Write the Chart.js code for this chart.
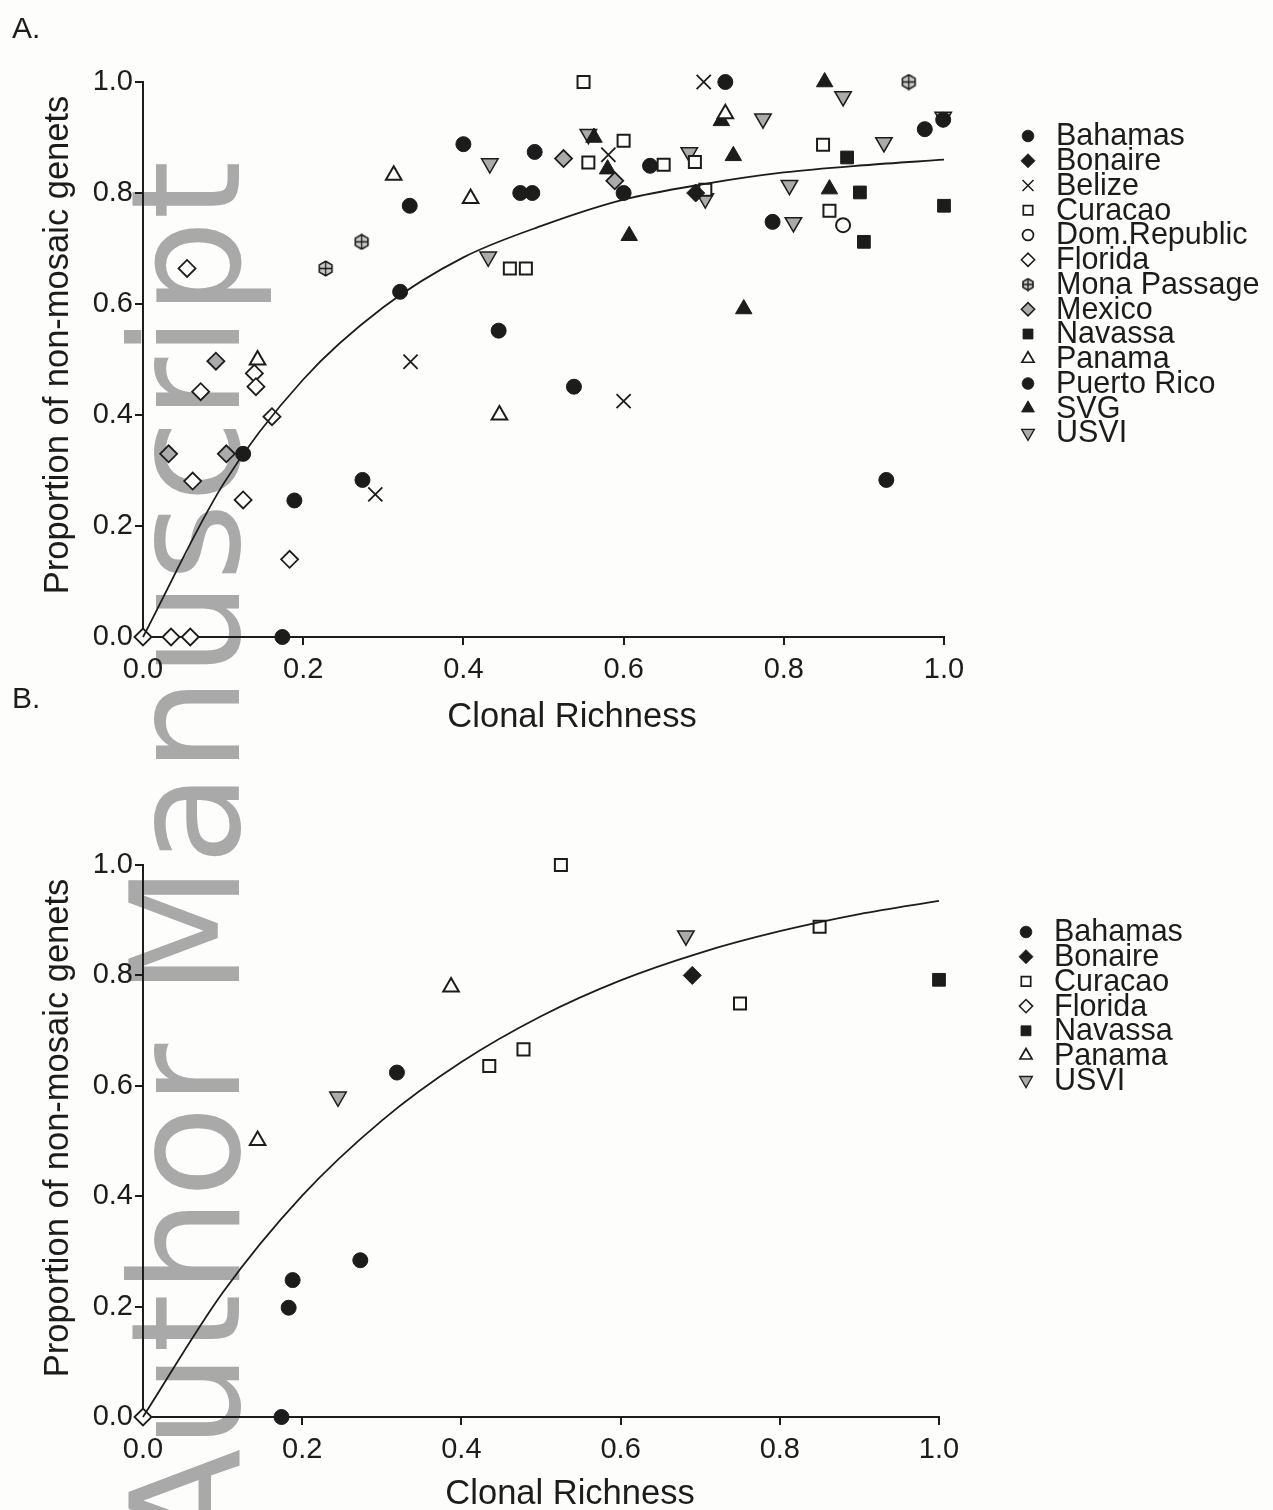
<!DOCTYPE html>
<html>
<head>
<meta charset="utf-8">
<title>Clonal richness vs non-mosaic genets</title>
<script src="https://cdn.jsdelivr.net/npm/chart.js@4.4.1/dist/chart.umd.min.js"></script>
<style>
  body { margin: 0; background: #fdfdfb; }
  #page { position: relative; width: 1273px; height: 1510px; overflow: hidden; }
  .wrap { position: absolute; left: 0; width: 1273px; z-index: 1; }
  .panel-label { position: absolute; left: 12px; font: 30px "Liberation Sans", Arial, sans-serif; line-height: 30px; color: #1c1c1c; z-index: 2; }
  #watermark {
    position: absolute; left: 112px; top: 1552px; z-index: 0;
    transform: rotate(-90deg); transform-origin: 0 0;
    font: 151px "DejaVu Sans", sans-serif; line-height: 1; color: #a9a9a9; white-space: nowrap;
  }
</style>
</head>
<body>
<div id="page">
  <div id="watermark">Author Manuscript</div>
  <div class="panel-label" style="top:13px">A.</div>
  <div class="panel-label" style="top:683px">B.</div>
  <div class="wrap" style="top:0"><canvas id="chartA" width="1273" height="750"></canvas></div>
  <div class="wrap" style="top:750px"><canvas id="chartB" width="1273" height="760"></canvas></div>
</div>
<script>
// clonal richness (x) vs proportion of non-mosaic genets (y), one array per location

// Panel A - all sites
const bahamasA = [[0.174, 0], [0.189, 0.246], [0.274, 0.283], [0.321, 0.622]];
const bonaireA = [[0.69, 0.8]];
const belizeA = [[0.7, 1.0], [0.581, 0.869], [0.334, 0.496], [0.6, 0.425], [0.29, 0.257]];
const curacaoA = [[0.55, 1.0], [0.6, 0.894], [0.556, 0.855], [0.65, 0.851], [0.689, 0.856],
                  [0.458, 0.664], [0.478, 0.664], [0.849, 0.887], [0.857, 0.768], [0.702, 0.806]];
const domRepublicA = [[0.874, 0.742]];
const floridaA = [[0.055, 0.664], [0.072, 0.442], [0.139, 0.475], [0.141, 0.451], [0.161, 0.397],
                  [0.062, 0.281], [0.125, 0.247], [0.183, 0.14], [0, 0], [0.035, 0], [0.059, 0]];
const monaPassageA = [[0.228, 0.664], [0.273, 0.712], [0.956, 1.0]];
const mexicoA = [[0.525, 0.862], [0.589, 0.822], [0.091, 0.497], [0.032, 0.33], [0.104, 0.33]];
const navassaA = [[0.879, 0.864], [0.895, 0.801], [1.0, 0.777], [0.9, 0.712]];
const panamaA = [[0.313, 0.832], [0.409, 0.79], [0.727, 0.943], [0.143, 0.499], [0.445, 0.4]];
const puertoRicoA = [[0.125, 0.33], [0.333, 0.777], [0.4, 0.888], [0.444, 0.552], [0.471, 0.8],
                     [0.486, 0.8], [0.489, 0.874], [0.538, 0.451], [0.6, 0.8], [0.633, 0.849],
                     [0.727, 1.0], [0.786, 0.748], [0.928, 0.283], [0.976, 0.915], [0.999, 0.932]];
const svgA = [[0.563, 0.9], [0.58, 0.843], [0.607, 0.723], [0.851, 1.0], [0.722, 0.93],
              [0.737, 0.867], [0.857, 0.807], [0.75, 0.591]];
const usviA = [[0.556, 0.906], [0.433, 0.853], [0.431, 0.685], [0.682, 0.873], [0.874, 0.974],
               [0.774, 0.934], [0.999, 0.937], [0.925, 0.891], [0.807, 0.814], [0.702, 0.79], [0.812, 0.747]];

// Panel B - subset of sites
const bahamasB = [[0.174, 0], [0.183, 0.198], [0.188, 0.248], [0.273, 0.284], [0.319, 0.624]];
const bonaireB = [[0.69, 0.8]];
const curacaoB = [[0.525, 1.0], [0.478, 0.666], [0.435, 0.636], [0.75, 0.749], [0.85, 0.888]];
const floridaB = [[0, 0]];
const navassaB = [[1.0, 0.792]];
const panamaB = [[0.387, 0.779], [0.144, 0.501]];
const usviB = [[0.245, 0.58], [0.682, 0.872]];

// fitted saturation curves, read at 0.1 steps
const fitX = [0, 0.1, 0.2, 0.3, 0.4, 0.5, 0.6, 0.7, 0.8, 0.9, 1.0];
const fitA = [0, 0.275, 0.464, 0.594, 0.684, 0.742, 0.788, 0.816, 0.837, 0.85, 0.86];
const fitB = [0, 0.225, 0.401, 0.537, 0.643, 0.726, 0.791, 0.841, 0.88, 0.911, 0.935];

const xTicks = [0, 0.2, 0.4, 0.6, 0.8, 1.0];

const FONT = '"Liberation Sans", Arial, Helvetica, sans-serif';
const INK = '#1c1c1c';
const PAPER = '#fdfdfb';
const SHADE = '#ababab';

// hexagon with a cross, used for Mona Passage
function hexCross(size) {
  const c = document.createElement('canvas');
  c.width = c.height = size;
  const g = c.getContext('2d');
  const m = size / 2, r = size / 2 - 1.2;
  g.beginPath();
  for (let i = 0; i < 6; i++) {
    const a = i * Math.PI / 3;
    g.lineTo(m + r * Math.sin(a), m - r * Math.cos(a));
  }
  g.closePath();
  g.fillStyle = '#c9c9c9';
  g.fill();
  g.lineWidth = 1.6;
  g.strokeStyle = INK;
  g.stroke();
  g.beginPath();
  g.moveTo(m, m - r); g.lineTo(m, m + r);
  g.moveTo(m - r * 0.87, m); g.lineTo(m + r * 0.87, m);
  g.lineWidth = 1.3;
  g.stroke();
  return c;
}
const hexIcon = hexCross(17);
const hexIconSmall = hexCross(14);

const markers = {
  'Bahamas':      { style: 'circle',   r: 7.5, fill: INK,   line: INK, w: 1 },
  'Bonaire':      { style: 'rectRot',  r: 9,   fill: INK,   line: INK, w: 1 },
  'Belize':       { style: 'crossRot', r: 10,  fill: INK,   line: INK, w: 1.8 },
  'Curacao':      { style: 'rect',     r: 8.5, fill: PAPER, line: INK, w: 2 },
  'Dom.Republic': { style: 'circle',   r: 7,   fill: PAPER, line: INK, w: 2 },
  'Florida':      { style: 'rectRot',  r: 8.5, fill: PAPER, line: INK, w: 1.8 },
  'Mona Passage': { style: hexIcon,    r: 8,   fill: SHADE, line: INK, w: 1, small: hexIconSmall },
  'Mexico':       { style: 'rectRot',  r: 8.5, fill: SHADE, line: INK, w: 1.8 },
  'Navassa':      { style: 'rect',     r: 9,   fill: INK,   line: INK, w: 1 },
  'Panama':       { style: 'triangle', r: 9,   fill: PAPER, line: INK, w: 2 },
  'Puerto Rico':  { style: 'circle',   r: 7.5, fill: INK,   line: INK, w: 1 },
  'SVG':          { style: 'triangle', r: 9.5, fill: INK,   line: INK, w: 1 },
  'USVI':         { style: 'triangle', r: 9.5, fill: SHADE, line: INK, w: 1.5, rot: 180 }
};

function pointSet(name, pairs) {
  const m = markers[name];
  return {
    label: name,
    data: pairs.map(p => ({ x: p[0], y: p[1] })),
    pointStyle: m.style,
    pointRotation: m.rot || 0,
    pointRadius: m.r,
    pointHoverRadius: m.r,
    backgroundColor: m.fill,
    borderColor: m.line,
    borderWidth: m.w,
    showLine: false,
    clip: false
  };
}

function fitSet(ys) {
  return {
    label: 'fit',
    data: fitX.map((x, i) => ({ x: x, y: ys[i] })),
    showLine: true,
    pointRadius: 0,
    borderColor: INK,
    borderWidth: 1.8,
    cubicInterpolationMode: 'monotone',
    fill: false,
    clip: false
  };
}

// axis titles and the side legend
const annotate = {
  id: 'annotate',
  afterDraw(chart, args, o) {
    const ctx = chart.ctx;
    ctx.save();
    ctx.fillStyle = INK;
    ctx.font = o.titleSize + 'px ' + FONT;
    ctx.textAlign = 'center';
    ctx.textBaseline = 'middle';
    ctx.fillText(o.xTitle, o.xTitleAt[0], o.xTitleAt[1]);
    ctx.save();
    ctx.translate(o.yTitleAt[0], o.yTitleAt[1]);
    ctx.rotate(-Math.PI / 2);
    ctx.fillText(o.yTitle, 0, 0);
    ctx.restore();

    ctx.font = o.legendSize + 'px ' + FONT;
    ctx.textAlign = 'left';
    o.entries.forEach((name, i) => {
      const m = markers[name];
      const x = o.legendAt[0], y = o.legendAt[1] + i * o.rowGap;
      ctx.fillStyle = m.fill;
      ctx.strokeStyle = m.line;
      ctx.lineWidth = m.w * 0.85;
      Chart.helpers.drawPoint(ctx, {
        pointStyle: m.small || m.style,
        rotation: m.rot || 0,
        radius: m.r * 0.78,
        borderWidth: m.w * 0.85
      }, x, y);
      ctx.fillStyle = INK;
      ctx.fillText(name, x + 28, y + 1);
    });
    ctx.restore();
  }
};

function scales(xh, yw) {
  const tickFont = { size: 29, family: FONT };
  return {
    x: {
      type: 'linear', min: 0, max: 1,
      afterFit: s => { s.height = xh; },
      afterBuildTicks: s => { s.ticks = xTicks.map(v => ({ value: v })); },
      ticks: { color: INK, font: tickFont, padding: 8, maxRotation: 0, callback: v => v.toFixed(1) },
      grid: { display: true, drawOnChartArea: false, drawTicks: true, tickLength: 8, color: INK, lineWidth: 2 },
      border: { display: true, color: INK, width: 2 }
    },
    y: {
      type: 'linear', min: 0, max: 1,
      afterFit: s => { s.width = yw; },
      afterBuildTicks: s => { s.ticks = xTicks.map(v => ({ value: v })); },
      ticks: { color: INK, font: tickFont, padding: 2, callback: v => v.toFixed(1) },
      grid: { display: true, drawOnChartArea: false, drawTicks: true, tickLength: 8, color: INK, lineWidth: 2 },
      border: { display: true, color: INK, width: 2 }
    }
  };
}

function makeChart(id, datasets, padding, notes) {
  return new Chart(document.getElementById(id), {
    type: 'scatter',
    data: { datasets: datasets },
    options: {
      responsive: false,
      animation: false,
      layout: { padding: padding },
      scales: scales(60, 143),
      plugins: {
        legend: { display: false },
        tooltip: { enabled: false },
        annotate: notes
      }
    },
    plugins: [annotate]
  });
}

makeChart('chartA', [
  fitSet(fitA),
  pointSet('Bahamas', bahamasA),
  pointSet('Bonaire', bonaireA),
  pointSet('Belize', belizeA),
  pointSet('Curacao', curacaoA),
  pointSet('Dom.Republic', domRepublicA),
  pointSet('Florida', floridaA),
  pointSet('Mona Passage', monaPassageA),
  pointSet('Mexico', mexicoA),
  pointSet('Navassa', navassaA),
  pointSet('Panama', panamaA),
  pointSet('Puerto Rico', puertoRicoA),
  pointSet('SVG', svgA),
  pointSet('USVI', usviA)
], { left: 0, top: 82, right: 329, bottom: 53 }, {
  xTitle: 'Clonal Richness', xTitleAt: [572, 717],
  yTitle: 'Proportion of non-mosaic genets', yTitleAt: [58, 345],
  titleSize: 34.5, legendSize: 30.5,
  legendAt: [1028, 136], rowGap: 24.75,
  entries: ['Bahamas', 'Bonaire', 'Belize', 'Curacao', 'Dom.Republic', 'Florida', 'Mona Passage',
            'Mexico', 'Navassa', 'Panama', 'Puerto Rico', 'SVG', 'USVI']
});

makeChart('chartB', [
  fitSet(fitB),
  pointSet('Bahamas', bahamasB),
  pointSet('Bonaire', bonaireB),
  pointSet('Curacao', curacaoB),
  pointSet('Florida', floridaB),
  pointSet('Navassa', navassaB),
  pointSet('Panama', panamaB),
  pointSet('USVI', usviB)
], { left: 0, top: 115, right: 334, bottom: 33 }, {
  xTitle: 'Clonal Richness', xTitleAt: [570, 744],
  yTitle: 'Proportion of non-mosaic genets', yTitleAt: [58, 378],
  titleSize: 34.5, legendSize: 30.5,
  legendAt: [1026, 182], rowGap: 24.7,
  entries: ['Bahamas', 'Bonaire', 'Curacao', 'Florida', 'Navassa', 'Panama', 'USVI']
});
</script>
</body>
</html>
